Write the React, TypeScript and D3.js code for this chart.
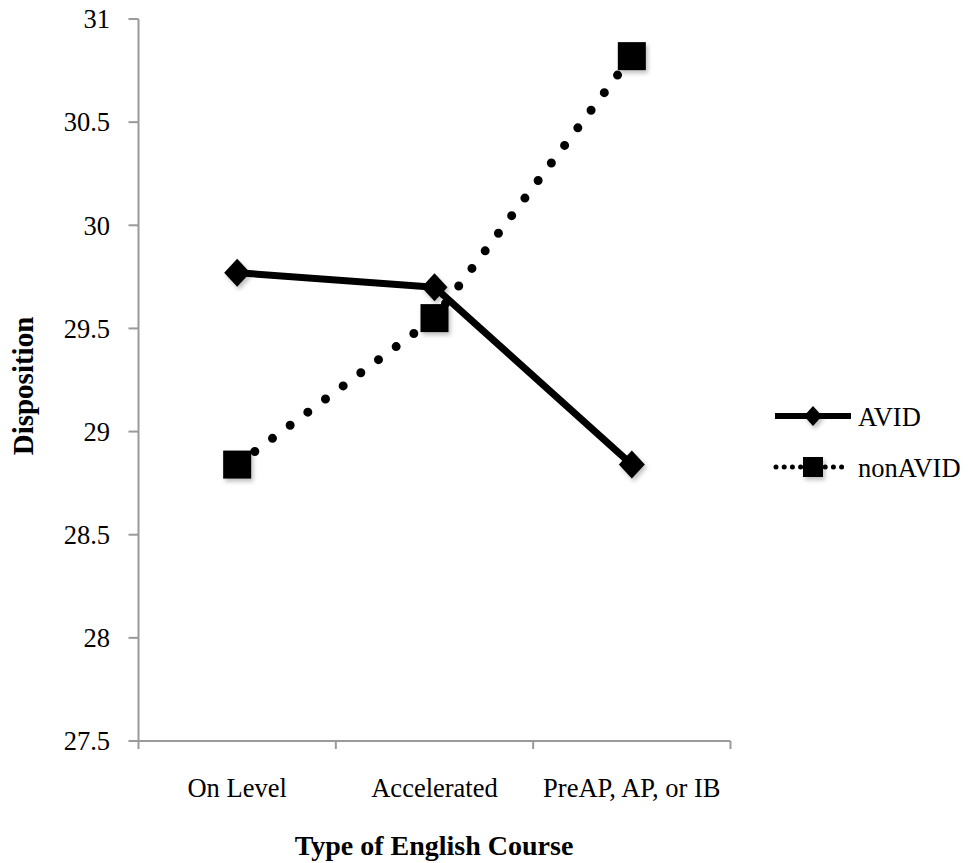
import React from "react";
import * as d3 from "d3";

const categories = ["On Level", "Accelerated", "PreAP, AP, or IB"];
const avidValues = [29.77, 29.7, 28.84];
const nonAvidValues = [28.84, 29.55, 30.82];
const yTicks = [27.5, 28, 28.5, 29, 29.5, 30, 30.5, 31];
const seriesNames = ["AVID", "nonAVID"];
const xTitle = "Type of English Course";
const yTitle = "Disposition";

const W = 968;
const H = 863;
const FONT = "'Liberation Serif', 'Times New Roman', serif";
const AXIS = "#9a9a9a";

export default function App() {
  const x = d3.scaleBand<string>().domain(categories).range([138.5, 730.5]).padding(0);
  const y = d3.scaleLinear().domain([27.5, 31]).range([741, 19]);
  const cx = (c: string) => (x(c) as number) + x.bandwidth() / 2;

  const line = d3
    .line<number>()
    .x((_, i) => cx(categories[i]))
    .y((v) => y(v));

  const boundaries = [...categories.map((c) => x(c) as number), x.range()[1]];

  const diamond = (px: number, py: number, hw: number, hh: number) =>
    `M${px},${py - hh}L${px + hw},${py}L${px},${py + hh}L${px - hw},${py}Z`;

  return (
    <svg
      width={W}
      height={H}
      style={{ position: "absolute", left: 0, top: 0, background: "#fff" }}
      fontFamily={FONT}
    >
      <defs>
        <filter id="sh" x="-50%" y="-50%" width="200%" height="200%">
          <feDropShadow dx="2" dy="3" stdDeviation="2" floodColor="#000" floodOpacity="0.25" />
        </filter>
      </defs>
      <rect width={W} height={H} fill="#fff" />

      {/* Y axis */}
      <line x1={138.5} x2={138.5} y1={y(31)} y2={y(27.5)} stroke={AXIS} strokeWidth={2} />
      {yTicks.map((t) => (
        <g key={t}>
          <line x1={128.5} x2={138.5} y1={y(t)} y2={y(t)} stroke={AXIS} strokeWidth={2} />
          <text x={110} y={y(t)} dy="0.35em" textAnchor="end" fontSize={26.5} fill="#000">
            {String(t)}
          </text>
        </g>
      ))}

      {/* X axis */}
      <line x1={x.range()[0]} x2={x.range()[1]} y1={y(27.5)} y2={y(27.5)} stroke={AXIS} strokeWidth={2} />
      {boundaries.map((b, i) => (
        <line key={i} x1={b} x2={b} y1={y(27.5)} y2={y(27.5) + 8} stroke={AXIS} strokeWidth={2} />
      ))}
      {categories.map((c) => (
        <text key={c} x={cx(c)} y={797} textAnchor="middle" fontSize={26.5} fill="#000">
          {c}
        </text>
      ))}

      <text x={434} y={855} textAnchor="middle" fontSize={28} fontWeight="bold" fill="#000">
        {xTitle}
      </text>
      <text
        transform={`translate(33,386) rotate(-90)`}
        textAnchor="middle"
        fontSize={29}
        fontWeight="bold"
        fill="#000"
      >
        {yTitle}
      </text>

      {/* nonAVID dotted line */}
      <path
        d={line(nonAvidValues) as string}
        fill="none"
        stroke="#000"
        strokeWidth={9}
        strokeLinecap="round"
        strokeDasharray="0 22"
      />
      {/* AVID solid line */}
      <path d={line(avidValues) as string} fill="none" stroke="#000" strokeWidth={7} strokeLinejoin="round" />

      {/* markers */}
      <g filter="url(#sh)">
        {avidValues.map((v, i) => (
          <path key={"a" + i} d={diamond(cx(categories[i]), y(v), 13, 14)} fill="#000" />
        ))}
        {nonAvidValues.map((v, i) => (
          <rect key={"n" + i} x={cx(categories[i]) - 14} y={y(v) - 14} width={28} height={28} fill="#000" />
        ))}
      </g>

      {/* Legend */}
      <g>
        <line x1={775} x2={851} y1={416} y2={416} stroke="#000" strokeWidth={6} />
        <path d={diamond(813, 416, 9, 10)} fill="#000" filter="url(#sh)" />
        <text x={858} y={426} fontSize={26.5} fill="#000">
          {seriesNames[0]}
        </text>
        <line
          x1={776}
          x2={848}
          y1={467}
          y2={467}
          stroke="#000"
          strokeWidth={5}
          strokeLinecap="round"
          strokeDasharray="0 8.2"
        />
        <rect x={803} y={457} width={20} height={20} fill="#000" filter="url(#sh)" />
        <text x={858} y={477} fontSize={26.5} fill="#000">
          {seriesNames[1]}
        </text>
      </g>
    </svg>
  );
}
